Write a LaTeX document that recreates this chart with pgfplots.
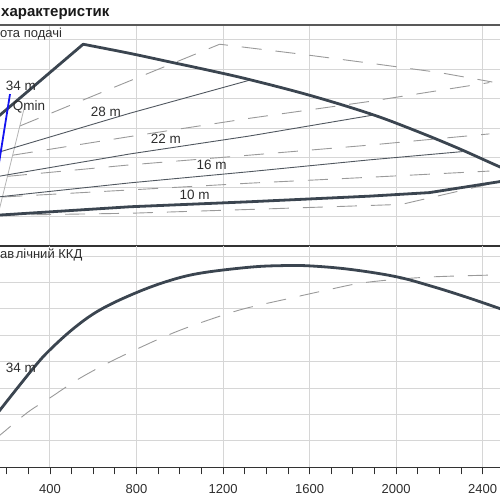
\documentclass[border=0pt]{standalone}
\usepackage{pgfplots}
\pgfplotsset{compat=1.18}
\usepackage{fontspec}
\setmainfont{Liberation Sans}
\definecolor{thickc}{HTML}{3B4550}
\definecolor{thinc}{HTML}{50575F}
\definecolor{dashc}{HTML}{9A9A9A}
\definecolor{gridc}{HTML}{D6D6D6}
\definecolor{lgrey}{HTML}{B4B4B4}
\definecolor{blueq}{HTML}{1414F0}
\definecolor{txt}{HTML}{2E2E2E}
\pgfplotsset{
  panel/.style={
    scale only axis, width=500pt, xmin=169.2, xmax=2480, ymin=0,
    axis line style={draw=none},
    xtick={400,800,...,2400},
    xmajorgrids, ymajorgrids,
    major grid style={gridc, line width=0.9pt},
    yticklabels={},
    /pgf/number format/assume math mode=true,
    /pgf/number format/1000 sep={},
  },
  thickline/.style={thickc, line width=2.8pt, line cap=round, line join=round, mark=none},
  thinline/.style={thinc, line width=0.9pt, mark=none},
  dashline/.style={dashc, line width=0.9pt, dash pattern=on 20pt off 14pt, mark=none},
}
\tikzset{lbl/.style={font=\fontsize{13.5}{16}\selectfont, text=txt, inner sep=0pt}}
\begin{document}
\begin{tikzpicture}
\useasboundingbox (0pt,0pt) rectangle (500pt,-500pt);
\clip (0pt,0pt) rectangle (500pt,-500pt);
% ---------- top panel ----------
\begin{axis}[panel, at={(0pt,-246pt)}, anchor=south west, height=221pt, ymax=74.92,
  ytick={10,20,...,70}, xticklabels={}, tick style={draw=none}]
% dashed set
\addplot[dashline] coordinates {(261.5,40.7) (723,54.6) (1184.5,68.4) (1553.7,65.1) (1876.8,62.0) (2199.8,58.8) (2444.4,55.6)};
\addplot[dashline] coordinates {(229.2,30.8) (769.2,37.1) (1323,43.3) (1876.8,49.0) (2430.6,55.4)};
\addplot[dashline] coordinates {(201.5,23.6) (769.2,27.5) (1323,30.8) (1876.8,34.2) (2430.6,38.0)};
\addplot[dashline] coordinates {(180.3,16.6) (769.2,19.0) (1323,21.3) (1876.8,23.3) (2430.6,25.4)};
\addplot[dashline] coordinates {(155.4,10.4) (769.2,11.1) (1369.1,12.5) (2024.4,14.1) (2430.6,21.0)};
% light grey qmin
\addplot[lgrey, line width=0.8pt, mark=none] coordinates {(155.4,9.2) (284.6,47.8)};
% thin solid
\addplot[thinline] coordinates {(172.9,32.0) (769.2,45.0) (1332.2,56.4)};
\addplot[thinline] coordinates {(146.1,23.3) (169.2,23.7) (769.2,31.2) (1323,37.3) (1895.2,44.4)};
\addplot[thinline] coordinates {(146.1,16.5) (169.2,16.7) (769.2,21.4) (1323,25.2) (1876.8,29.2) (2306,32.0)};
% thick envelope
\addplot[thickline] coordinates {(76.9,38.6) (169.2,44.4) (553.6,68.4)};
\addplot[thickline, smooth, tension=0.6] coordinates {(553.6,68.4) (769.2,65.3) (953.8,62.4) (1138.4,59.5) (1323,56.4) (1599.9,51.1) (1876.8,44.9) (2075.2,39.5) (2278.2,33.4) (2476.7,26.9) (2596.7,23.2)};
\addplot[thickline] coordinates {(2596.7,23.2) (2476.7,21.8) (2153.7,18.1) (1876.8,16.9) (1323,15.0) (769.2,13.3) (169.2,10.5) (76.9,10.1)};
% blue qmin
\addplot[blueq, line width=1.8pt, mark=none] coordinates {(155.4,23.9) (215.4,51.5)};
\node[lbl] at (axis cs:266.1,54.2) {34 m};
\node[lbl] at (axis cs:303,47.1) {Qmin};
\node[lbl] at (axis cs:658.4,45.4) {28 m};
\node[lbl] at (axis cs:935.3,36.2) {22 m};
\node[lbl] at (axis cs:1147.6,27.5) {16 m};
\node[lbl] at (axis cs:1069.1,17.3) {10 m};
\draw[color=black!65, line width=1.2pt] (rel axis cs:0,1) -- (rel axis cs:1,1);
\draw[color=black!80, line width=1.2pt] (rel axis cs:0,0) -- (rel axis cs:1,0);
\end{axis}
% ---------- bottom panel ----------
\begin{axis}[panel, at={(0pt,-467.3pt)}, anchor=south west, height=221.3pt, ymax=83.83,
  ytick={10,20,...,80}, ytick style={draw=none},
  minor xtick={200,300,...,2500},
  tick align=outside, xtick pos=left,
  major tick length=7pt, minor tick length=7pt,
  xtick style={draw=txt, line width=0.8pt},
  xticklabel style={font=\fontsize{13}{15}\selectfont, text=txt, yshift=-7pt}]
\addplot[dashline, smooth, tension=0.5] coordinates {(146.1,10.9) (169.2,12.2) (298.4,20.9) (400,26.3) (529.2,33.3) (676.9,39.9) (892.4,48.2) (1046.1,53.3) (1276.8,59.6) (1507.6,64.0) (1677,67.1) (1830.6,69.7) (2000,71.2) (2184.6,72.2) (2430.6,72.8)};
\addplot[thickline, smooth, tension=0.6] coordinates {(123.1,16.6) (169.2,21.7) (322.9,37.5) (400,44.5) (515.3,53.0) (630.7,59.6) (783,65.6) (939.9,70.4) (1092.2,73.5) (1323,75.8) (1475.2,76.4) (1599.9,76.3) (1784.5,75.0) (2000,72.2) (2167.5,68.5) (2323,64.5) (2476.7,60.2) (2522.9,58.8)};
\node[lbl] at (axis cs:266.1,37.6) {34 m};
\draw[color=black!80, line width=1.2pt] (rel axis cs:0,0) -- (rel axis cs:1,0);
\end{axis}
% ---------- panel titles ----------
\node[anchor=base west, inner sep=0pt, font=\fontsize{15}{18}\selectfont\bfseries, text=black!90] at (1pt,-16.5pt) {характеристик};
\node[anchor=base west, inner sep=0pt, font=\fontsize{13}{15}\selectfont, text=txt] at (0pt,-38pt) {ота подачі};
\node[anchor=base west, inner sep=0pt, font=\fontsize{13}{15}\selectfont, text=txt] at (0pt,-258.5pt) {ав\kern1.5pt лічний ККД};
\end{tikzpicture}
\end{document}
